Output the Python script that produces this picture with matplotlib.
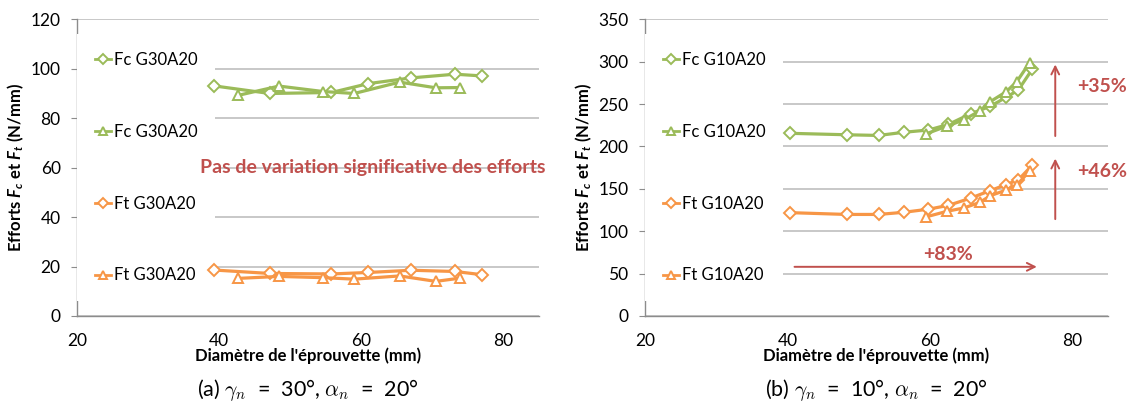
import matplotlib
matplotlib.use('Agg')
import matplotlib.pyplot as plt

plt.rcParams['font.family'] = ['Lato', 'DejaVu Sans']
plt.rcParams['mathtext.fontset'] = 'custom'
plt.rcParams['mathtext.it'] = 'Lato:italic:bold'
plt.rcParams['mathtext.rm'] = 'Lato:bold'
plt.rcParams['mathtext.bf'] = 'Lato:bold'

GREEN = '#9BBB59'
ORANGE = '#F79646'
RED = '#C0504D'
GRID = '#BFBFBF'
SPINE = '#8C8C8C'

# (a) G30A20
x_a_diam = [39.2, 47.1, 55.8, 61.0, 67.0, 73.2, 77.0]
fc_a_diam = [93.1, 90.0, 90.4, 94.0, 96.3, 97.8, 97.1]
ft_a_diam = [18.6, 17.2, 17.0, 17.6, 18.5, 18.0, 16.7]
x_a_tri = [42.6, 48.4, 54.6, 59.0, 65.4, 70.5, 73.9]
fc_a_tri = [89.2, 93.0, 90.8, 90.0, 94.6, 92.3, 92.4]
ft_a_tri = [15.2, 16.0, 15.5, 14.9, 16.2, 14.0, 15.3]

# (b) G10A20
x_b_diam = [40.4, 48.3, 52.8, 56.3, 59.8, 62.6, 65.7, 68.5, 70.7, 72.4, 74.4]
fc_b_diam = [215.5, 213.8, 213.0, 216.7, 219.4, 226.0, 238.5, 247.5, 258.0, 266.5, 291.4]
ft_b_diam = [121.9, 119.8, 119.8, 122.3, 126.0, 130.5, 139.0, 148.0, 155.0, 160.5, 178.1]
x_b_tri = [59.5, 62.4, 64.8, 67.0, 68.5, 70.7, 72.2, 74.0]
fc_b_tri = [215.0, 224.0, 231.5, 242.0, 253.0, 264.5, 276.5, 298.8]
ft_b_tri = [117.0, 123.5, 127.5, 134.0, 142.0, 148.5, 154.5, 171.0]

xticks = [20, 40, 60, 80]


def draw(ax, xd, fcd, ftd, xt, fct, ftt, name, ymax, ystep):
    kw = dict(lw=2.3, markerfacecolor='white', markeredgewidth=1.4, zorder=6)
    ax.plot(xd, fcd, color=GREEN, marker='D', markersize=6.5, label='Fc ' + name, **kw)
    ax.plot(xt, fct, color=GREEN, marker='^', markersize=7.5, label='Fc ' + name, **kw)
    ax.plot(xd, ftd, color=ORANGE, marker='D', markersize=6.5, label='Ft ' + name, **kw)
    ax.plot(xt, ftt, color=ORANGE, marker='^', markersize=7.5, label='Ft ' + name, **kw)
    ax.set_xlim(20, 85)
    ax.set_ylim(0, ymax)
    ax.set_xticks(xticks)
    ax.set_yticks(range(0, ymax + 1, ystep))
    ax.grid(axis='y', color=GRID, lw=1.2)
    ax.set_axisbelow(True)
    for s in ('top', 'right'):
        ax.spines[s].set_visible(False)
    for s in ('left', 'bottom'):
        ax.spines[s].set_color(SPINE)
        ax.spines[s].set_linewidth(1.0)
    ax.tick_params(axis='y', length=4, color=SPINE, pad=8, labelsize=12.5)
    ax.tick_params(axis='x', length=0, pad=12, labelsize=12.5)
    ax.set_xlabel("Diamètre de l'éprouvette (mm)", fontsize=12, fontweight='bold', labelpad=-1)
    ax.set_ylabel('Efforts $F_c$ et $F_t$ (N/mm)', fontsize=12, fontweight='bold', labelpad=3)
    leg = ax.legend(loc='center left', bbox_to_anchor=(0.0, 0.5), borderaxespad=0,
                    fontsize=12, frameon=True, facecolor='white', edgecolor='none',
                    framealpha=1, fancybox=False, handlelength=1.0, handletextpad=0.15,
                    labelspacing=3.35, borderpad=1.05, markerscale=0.75)
    for h in leg.legend_handles:
        h.set_linewidth(2.0)


fig = plt.figure(figsize=(11.3, 4.05), dpi=100)
ax1 = fig.add_axes([0.0684, 0.2198, 0.4084, 0.7325])
ax2 = fig.add_axes([0.5708, 0.2198, 0.4097, 0.7325])

draw(ax1, x_a_diam, fc_a_diam, ft_a_diam, x_a_tri, fc_a_tri, ft_a_tri, 'G30A20', 120, 20)
draw(ax2, x_b_diam, fc_b_diam, ft_b_diam, x_b_tri, fc_b_tri, ft_b_tri, 'G10A20', 350, 50)

ax1.text(61.6, 59.9, 'Pas de variation significative des efforts', color=RED,
         fontsize=14, fontweight='bold', ha='center', va='center', zorder=7)

arrow = dict(arrowstyle='->', color=RED, lw=1.4, mutation_scale=14)
ax2.annotate('', xy=(77.6, 300), xytext=(77.6, 209), arrowprops=arrow)
ax2.annotate('', xy=(77.6, 189), xytext=(77.6, 111), arrowprops=arrow)
ax2.annotate('', xy=(75.4, 58), xytext=(40.6, 58), arrowprops=arrow)
ax2.text(84.2, 271, '+35%', color=RED, fontsize=14, fontweight='bold', ha='center', va='center')
ax2.text(84.2, 171, '+46%', color=RED, fontsize=14, fontweight='bold', ha='center', va='center')
ax2.text(62.6, 73, '+83%', color=RED, fontsize=14, fontweight='bold', ha='center', va='center')

fig.text(0.2726, 0.037, r'(a) $\gamma_n$  =  30°, $\alpha_n$  =  20°', fontsize=15.5,
         ha='center', va='center', math_fontfamily='cm')
fig.text(0.7757, 0.037, r'(b) $\gamma_n$  =  10°, $\alpha_n$  =  20°', fontsize=15.5,
         ha='center', va='center', math_fontfamily='cm')

fig.savefig('out.png', dpi=100)
